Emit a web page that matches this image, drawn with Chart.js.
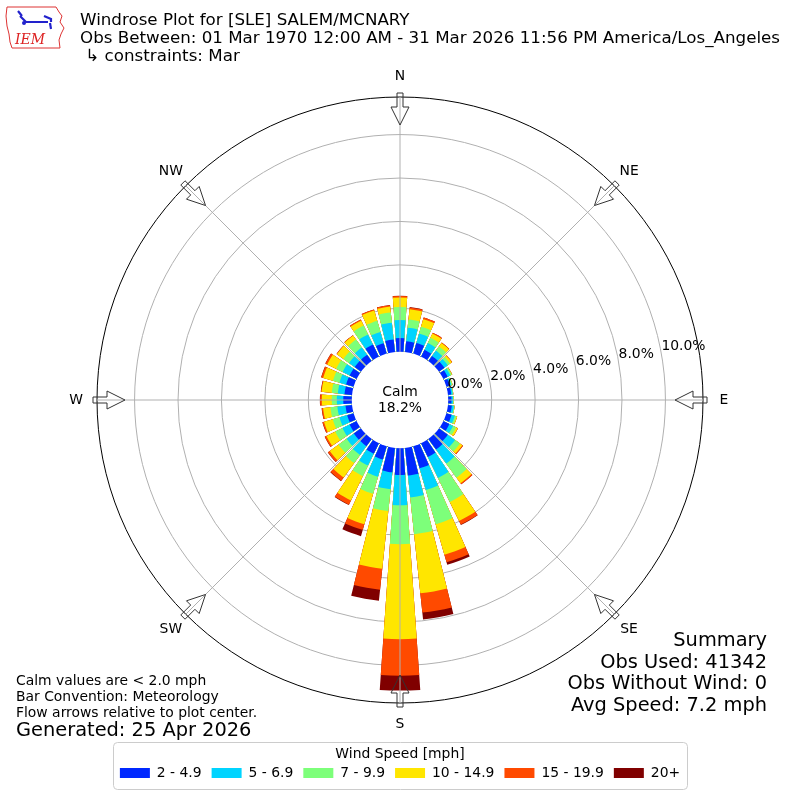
<!DOCTYPE html>
<html>
<head>
<meta charset="utf-8">
<script src="https://cdn.jsdelivr.net/npm/chart.js@4.4.1/dist/chart.umd.min.js"></script>
<style>
  body { margin: 0; background: #fff; font-family: "DejaVu Sans", sans-serif; }
  #wrap { position: relative; width: 800px; height: 800px; overflow: hidden; }
  #rose { position: absolute; left: 0; top: 0; }
  .t { position: absolute; white-space: nowrap; color: #000; }
</style>
</head>
<body>
<div id="wrap">
  <canvas id="rose" width="800" height="800"></canvas>

  <!-- logo IEM (semplificato) -->
  <svg class="t" style="left:4px;top:4px" width="62" height="48" viewBox="0 0 62 48">
    <path d="M3 3 L52 3 L55 8 L58 12 L56 18 L60 24 L57 30 L55 36 L56 44 L8 44 L6 38 L5 30 L3 22 L2 12 Z" fill="none" stroke="#d33" stroke-width="1"/>
    <path d="M14 7 L18 12 M16 12 L22 18 L44 18 M40 12 L47 15 L47 18 M46 19 L47 25" fill="none" stroke="#22c" stroke-width="2.2"/>
    <circle cx="20" cy="19" r="2" fill="#22c"/>
    <text x="11" y="40" font-family="DejaVu Serif, serif" font-style="italic" font-size="14" fill="#d22">IEM</text>
  </svg>

  <div class="t" style="left:80px;top:10px;font-size:16.7px;line-height:18px">Windrose Plot for [SLE] SALEM/MCNARY<br>Obs Between: 01 Mar 1970 12:00 AM - 31 Mar 2026 11:56 PM America/Los_Angeles<br>&nbsp;↳ constraints: Mar</div>

  <div class="t" style="left:16px;top:672px;font-size:13.9px;line-height:16px">Calm values are &lt; 2.0 mph<br>Bar Convention: Meteorology<br>Flow arrows relative to plot center.</div>
  <div class="t" style="left:16px;top:719px;font-size:19.4px;line-height:22px">Generated: 25 Apr 2026</div>

  <div class="t" style="right:33px;top:629px;font-size:19.4px;line-height:21.7px;text-align:right">Summary<br>Obs Used: 41342<br>Obs Without Wind: 0<br>Avg Speed: 7.2 mph</div>
</div>

<script>
// direzioni di provenienza del vento (gradi)
var direzioni = [0,10,20,30,40,50,60,70,80,90,100,110,120,130,140,150,160,170,180,190,200,210,220,230,240,250,260,270,280,290,300,310,320,330,340,350];

// frequenze (%) per ogni fascia di velocità
var v2_5   = [0.63,0.50,0.51,0.35,0.29,0.31,0.22,0.17,0.15,0.15,0.18,0.25,0.31,0.50,0.60,0.70,1.05,1.28,1.23,1.13,0.63,0.53,0.41,0.41,0.36,0.31,0.30,0.39,0.35,0.36,0.36,0.36,0.36,0.62,0.50,0.58];
var v5_7   = [0.83,0.63,0.45,0.35,0.30,0.19,0.14,0.07,0.07,0.07,0.09,0.15,0.19,0.41,0.80,1.07,1.04,1.01,1.40,0.78,0.82,0.61,0.50,0.41,0.37,0.37,0.38,0.30,0.31,0.32,0.36,0.32,0.41,0.52,0.54,0.78];
var v7_10  = [0.60,0.38,0.33,0.27,0.24,0.13,0.07,0.05,0.02,0.03,0.03,0.08,0.15,0.28,0.80,1.23,1.64,1.70,1.79,1.01,0.82,0.54,0.46,0.46,0.37,0.32,0.32,0.23,0.28,0.31,0.33,0.32,0.45,0.45,0.53,0.47];
var v10_15 = [0.44,0.47,0.36,0.21,0.19,0.10,0.02,0.01,0.01,0.01,0.01,0.04,0.09,0.14,0.32,0.98,1.46,2.74,4.37,2.67,1.46,1.25,0.82,0.50,0.45,0.42,0.34,0.46,0.47,0.47,0.46,0.37,0.23,0.26,0.50,0.28];
var v15_20 = [0.07,0.08,0.08,0.05,0.03,0.02,0.01,0,0,0,0,0,0.01,0.04,0.06,0.18,0.36,0.89,1.68,0.97,0.27,0.21,0.19,0.10,0.08,0.07,0.06,0.08,0.03,0.09,0.09,0.02,0.02,0.05,0.05,0.06];
var v20    = [0.01,0.02,0,0,0,0,0,0,0,0,0,0,0,0,0,0.02,0.12,0.32,0.69,0.51,0.30,0.02,0.02,0.01,0.01,0.01,0.01,0.01,0.01,0.01,0.01,0,0,0,0,0.01];

var fasce = ['2 - 4.9', '5 - 6.9', '7 - 9.9', '10 - 14.9', '15 - 19.9', '20+'];
var tickPerc = [0, 2, 4, 6, 8, 10];
var calma = 18.2;
var punti = ['N', 'NE', 'E', 'SE', 'S', 'SW', 'W', 'NW'];

var colori = ['#0028ff', '#00d4ff', '#7dff7a', '#ffe600', '#ff4a00', '#800000'];
var rMin = -2.22, rMax = 11.73;   // 0% sul bordo del cerchio della calma
var largBarra = 8, largVuoto = 2; // gradi
var fontBase = '13.9px "DejaVu Sans"';

// costruisco le serie cumulative (una barra + un vuoto per direzione)
var serie = [v2_5, v5_7, v7_10, v10_15, v15_20, v20];
var etichette = [];
direzioni.forEach(function(d) { etichette.push(d + '°'); etichette.push(''); });
var datasets = [];
var somma = direzioni.map(function() { return 0; });
for (var k = 0; k < serie.length; k++) {
  var dati = [];
  for (var i = 0; i < direzioni.length; i++) {
    somma[i] += serie[k][i];
    dati.push(somma[i]);
    dati.push(rMin);   // spazio vuoto tra le barre
  }
  datasets.push({
    label: fasce[k],
    data: dati,
    backgroundColor: colori[k],
    borderWidth: 0,
    angle: function(ctx) { return ctx.index % 2 === 0 ? largBarra : largVuoto; }
  });
}

function puntoPolare(s, gradi, r) {
  var a = gradi * Math.PI / 180;
  return { x: s.xCenter + r * Math.sin(a), y: s.yCenter - r * Math.cos(a) };
}

var decorazioni = {
  id: 'decorazioni',
  afterDatasetsDraw: function(chart) {
    var s = chart.scales.r, ctx = chart.ctx;
    ctx.save();
    ctx.fillStyle = '#fff';
    ctx.beginPath();
    ctx.arc(s.xCenter, s.yCenter, s.getDistanceFromCenterForValue(0), 0, 2 * Math.PI);
    ctx.fill();
    ctx.restore();
  },
  afterDraw: function(chart) {
    var s = chart.scales.r, ctx = chart.ctx;
    var r0 = s.getDistanceFromCenterForValue(0);
    var rOut = s.getDistanceFromCenterForValue(rMax);
    ctx.save();
    // linee degli angoli ogni 45 gradi
    ctx.strokeStyle = '#b0b0b0';
    ctx.lineWidth = 1;
    for (var g = 0; g < 360; g += 45) {
      var p1 = puntoPolare(s, g, r0), p2 = puntoPolare(s, g, rOut);
      ctx.beginPath(); ctx.moveTo(p1.x, p1.y); ctx.lineTo(p2.x, p2.y); ctx.stroke();
    }
    // frecce e nomi dei punti cardinali
    ctx.font = fontBase;
    ctx.textAlign = 'center';
    ctx.textBaseline = 'middle';
    punti.forEach(function(nome, j) {
      var g = j * 45;
      var a = g * Math.PI / 180;
      var dx = Math.sin(a), dy = -Math.cos(a), px = Math.cos(a), py = Math.sin(a);
      var forma = [[rOut + 4, -3], [rOut - 10, -3], [rOut - 10, -9], [rOut - 28, 0], [rOut - 10, 9], [rOut - 10, 3], [rOut + 4, 3]];
      ctx.beginPath();
      forma.forEach(function(f, n) {
        var x = s.xCenter + f[0] * dx + f[1] * px, y = s.yCenter + f[0] * dy + f[1] * py;
        if (n === 0) ctx.moveTo(x, y); else ctx.lineTo(x, y);
      });
      ctx.closePath();
      ctx.strokeStyle = '#333';
      ctx.stroke();
      var pl = puntoPolare(s, g, rOut + 21);
      ctx.fillStyle = '#000';
      ctx.fillText(nome, pl.x, pl.y);
    });
    // etichette radiali
    ctx.textAlign = 'left';
    tickPerc.forEach(function(v) {
      var p = puntoPolare(s, 80, s.getDistanceFromCenterForValue(v));
      ctx.fillText(v.toFixed(1) + '%', p.x, p.y - 7.5);
    });
    // testo della calma
    ctx.textAlign = 'center';
    ctx.fillText('Calm', s.xCenter, s.yCenter - 8);
    ctx.fillText(calma.toFixed(1) + '%', s.xCenter, s.yCenter + 8);
    // cornice della legenda
    var hb = chart.legend.legendHitBoxes;
    var sx = Math.min.apply(null, hb.map(function(h) { return h.left; })) - 7;
    var dxx = Math.max.apply(null, hb.map(function(h) { return h.left + h.width; })) + 7;
    var top = Math.round(chart.legend.top) - 3;
    ctx.strokeStyle = '#cccccc';
    ctx.beginPath();
    ctx.roundRect(Math.round(sx) + 0.5, top + 0.5, Math.round(dxx - sx), Math.round(chart.legend.bottom) - top - 1, 4);
    ctx.stroke();
    ctx.restore();
  }
};

var chart = new Chart(document.getElementById('rose'), {
  type: 'polarArea',
  data: { labels: etichette, datasets: datasets },
  options: {
    responsive: false,
    animation: false,
    layout: { padding: { left: 97, right: 97, top: 55, bottom: 10 } },
    scales: {
      r: {
        min: rMin,
        max: rMax,
        startAngle: -largBarra / 2,
        z: 1,
        afterBuildTicks: function(sc) {
          sc.ticks = [rMin].concat(tickPerc).concat([rMax]).map(function(v) { return { value: v }; });
        },
        ticks: { display: false },
        pointLabels: { display: false },
        angleLines: { display: false },
        grid: {
          lineWidth: 1,
          color: function(ctx) {
            var v = ctx.tick.value;
            if (v === rMin) return 'rgba(0,0,0,0)';
            if (v === rMax || v === 0) return '#000';
            return '#b0b0b0';
          }
        }
      }
    },
    plugins: {
      tooltip: { enabled: false },
      legend: {
        position: 'bottom',
        title: { display: true, text: 'Wind Speed [mph]', font: { size: 13.9, family: 'DejaVu Sans' }, color: '#000', padding: { top: 2, bottom: -8 } },
        labels: {
          boxWidth: 30,
          boxHeight: 10,
          padding: 10,
          color: '#000',
          font: { size: 13.9, family: 'DejaVu Sans' },
          generateLabels: function(ch) {
            return ch.data.datasets.map(function(ds, i) {
              return { text: ds.label, fillStyle: ds.backgroundColor, strokeStyle: ds.backgroundColor, lineWidth: 0, hidden: false, datasetIndex: i };
            });
          }
        }
      }
    }
  },
  plugins: [decorazioni]
});
</script>
</body>
</html>
